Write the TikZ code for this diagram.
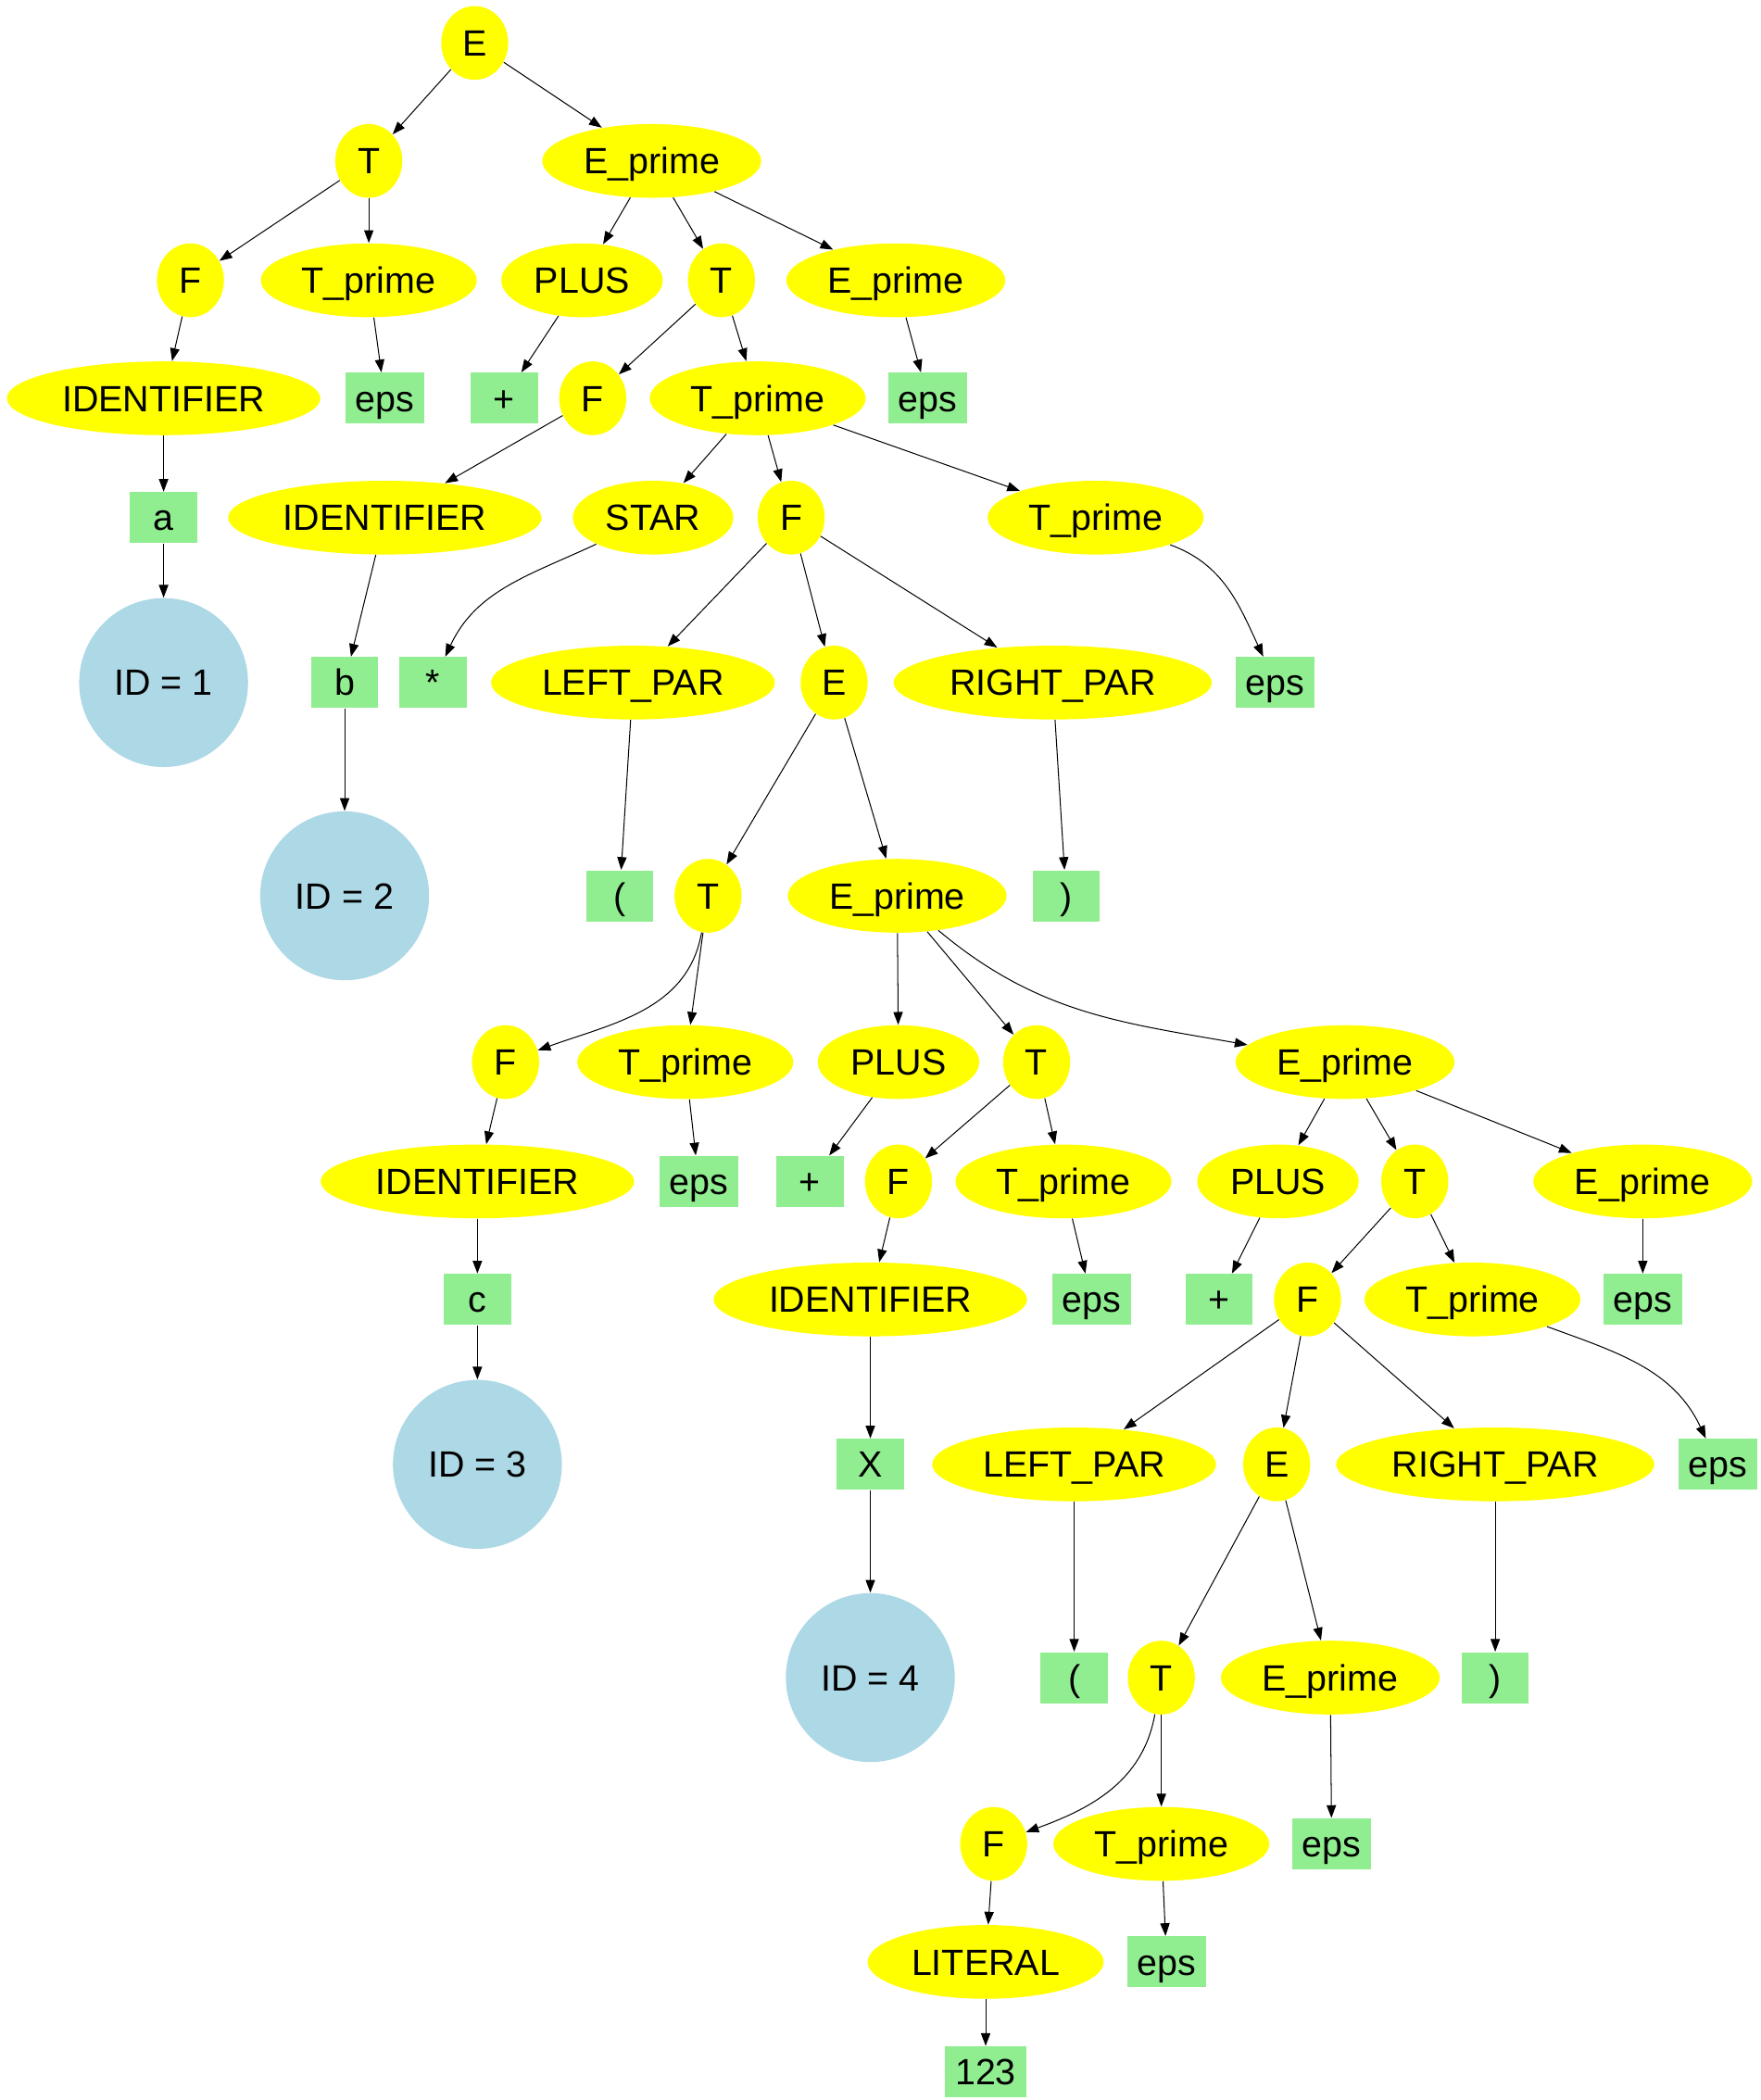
\documentclass[tikz,border=0pt]{standalone}
\usepackage{xcolor}
\usepackage{fontspec}
\setmainfont{Liberation Sans}
\usepackage{tikz}
\usetikzlibrary{shapes,arrows.meta,positioning,calc}

\definecolor{ruleyellow}{HTML}{FFFF00}
\definecolor{tokgreen}{HTML}{90EE90}
\definecolor{idblue}{HTML}{ADD8E6}

\tikzset{
    rule/.style={ellipse, fill=ruleyellow, inner xsep=0.14cm, inner ysep=0.1cm,
        minimum width=1cm, minimum height=1.1cm,
        text height=0.39cm, text depth=0cm, font=\fontsize{15.5}{18}\selectfont},
    token/.style={rectangle, fill=tokgreen, inner xsep=0.15cm, inner ysep=0.1cm,
        minimum width=1cm, minimum height=0.76cm,
        text height=0.39cm, text depth=0cm, font=\fontsize{15.5}{18}\selectfont},
    ident/.style={circle, fill=idblue, minimum size=2.52cm, inner sep=0pt,
        text height=0.39cm, text depth=0cm, font=\fontsize{15.5}{18}\selectfont},
    edge/.style={-{Triangle[length=0.19cm,width=0.14cm]}}
}

\begin{document}
\begin{tikzpicture}[x=0.02cm,y=-0.02cm]
    \useasboundingbox (0,0) rectangle (1313,1566);
    % grammar symbols
    \foreach \name/\x/\y/\label in {
        E1/354/32/E,
        T1/275/120/T,
        Ep1/486/120/E\_prime,
        F1/142/209/F,
        Tp1/275/209/T\_prime,
        P1/434/209/PLUS,
        T2/538/209/T,
        Ep2/668/209/E\_prime,
        Id1/122/297/IDENTIFIER,
        F2/442/297/F,
        Tp2/565/297/T\_prime,
        Id2/287/386/IDENTIFIER,
        S1/487/386/STAR,
        F3/590/386/F,
        Tp3/817/386/T\_prime,
        Lp1/472/509/LEFT\_PAR,
        E2/622/509/E,
        Rp1/785/509/RIGHT\_PAR,
        T3/528/668/T,
        Ep3/669/668/E\_prime,
        F4/377/792/F,
        Tp4/511/792/T\_prime,
        P2/670/792/PLUS,
        T4/773/792/T,
        Ep4/1003/792/E\_prime,
        Id3/356/881/IDENTIFIER,
        F5/670/881/F,
        Tp5/793/881/T\_prime,
        P3/953/881/PLUS,
        T5/1055/881/T,
        Ep5/1225/881/E\_prime,
        Id4/649/969/IDENTIFIER,
        F6/975/969/F,
        Tp6/1098/969/T\_prime,
        Lp2/801/1092/LEFT\_PAR,
        E3/952/1092/E,
        Rp2/1115/1092/RIGHT\_PAR,
        T6/866/1251/T,
        Ep6/992/1251/E\_prime,
        F7/741/1375/F,
        Tp7/866/1375/T\_prime,
        Lit1/735/1463/LITERAL} {
        \node[rule] (\name) at (\x,\y) {\label};
    }

    % tokens
    \foreach \name/\x/\y/\label in {
        eps1/287/297/eps,
        plus1/376/297/+,
        eps2/692/297/eps,
        ta/122/386/a,
        tb/257/509/b,
        star1/323/509/*,
        eps3/951/509/eps,
        lp1/462/668/{(},
        rp1/795/668/{)},
        eps4/521/881/eps,
        plus2/604/881/+,
        tc/356/969/c,
        eps5/814/969/eps,
        plus3/909/969/+,
        eps6/1225/969/eps,
        tx/649/1092/X,
        eps7/1281/1092/eps,
        lp2/801/1251/{(},
        rp2/1115/1251/{)},
        eps8/993/1375/eps,
        eps9/870/1463/eps,
        lit123/735/1545/123} {
        \node[token] (\name) at (\x,\y) {\label};
    }

    % symbol table entries
    \foreach \name/\x/\y/\label in {
        id1/122/509/ID = 1,
        id2/257/668/ID = 2,
        id3/356/1092/ID = 3,
        id4/649/1251/ID = 4} {
        \node[ident] (\name) at (\x,\y) {\label};
    }

    \foreach \a/\b in {
        E1/T1, E1/Ep1, T1/F1, T1/Tp1, Ep1/P1, Ep1/T2, Ep1/Ep2,
        F1/Id1, Tp1/eps1, P1/plus1, T2/F2, T2/Tp2, Ep2/eps2,
        Id1/ta, F2/Id2, Tp2/S1, Tp2/F3, Tp2/Tp3, ta/id1, Id2/tb,
        F3/Lp1, F3/E2, F3/Rp1, tb/id2, Lp1/lp1, E2/T3, E2/Ep3, Rp1/rp1,
        T3/Tp4, Ep3/P2, Ep3/T4, F4/Id3, Tp4/eps4, P2/plus2,
        T4/F5, T4/Tp5, Ep4/P3, Ep4/T5, Ep4/Ep5, Id3/tc, F5/Id4,
        Tp5/eps5, P3/plus3, T5/F6, T5/Tp6, Ep5/eps6, tc/id3, Id4/tx,
        F6/Lp2, F6/E3, F6/Rp2, tx/id4, Lp2/lp2, E3/T6, E3/Ep6, Rp2/rp2,
        T6/Tp7, Ep6/eps8, F7/Lit1, Tp7/eps9, Lit1/lit123}{
        \draw[edge] (\a) -- (\b);
    }

    % curved ones
    \draw[edge] (S1) to[out=205,in=65] (star1);
    \draw[edge] (Tp3) to[out=-20,in=115] (eps3);
    \draw[edge] (T3) to[out=-100,in=20] (F4);
    \draw[edge] (Ep3) to[out=-40,in=170] (Ep4);
    \draw[edge] (Tp6) to[out=-20,in=115] (eps7);
    \draw[edge] (T6) to[out=-100,in=20] (F7);
\end{tikzpicture}
\end{document}
